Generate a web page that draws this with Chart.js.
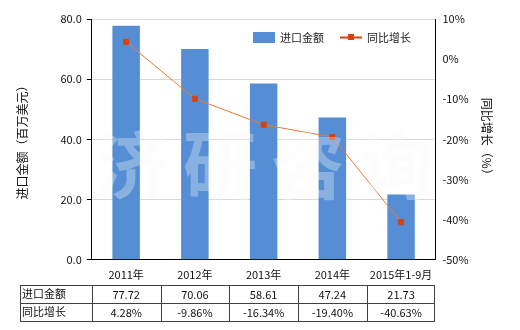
<!DOCTYPE html>
<html>
<head>
<meta charset="utf-8">
<script src="https://cdn.jsdelivr.net/npm/chart.js@4/dist/chart.umd.min.js"></script>
<style>
  html, body { margin: 0; padding: 0; background: #fff; }
  #wrap { width: 520px; height: 330px; }
</style>
</head>
<body>
<div id="wrap"><canvas id="chart" width="520" height="330"></canvas></div>
<script>
const categories = ['2011年', '2012年', '2013年', '2014年', '2015年1-9月'];
const importValues = [77.72, 70.06, 58.61, 47.24, 21.73];
const growthValues = [4.28, -9.86, -16.34, -19.40, -40.63];
const importLabels = ['77.72', '70.06', '58.61', '47.24', '21.73'];
const growthLabels = ['4.28%', '-9.86%', '-16.34%', '-19.40%', '-40.63%'];

const FONT = '"Noto Sans CJK SC", "Noto Sans", sans-serif';
const BAR_COLOR = '#558ed5';
const LINE_COLOR = '#ee7a30';
const POINT_COLOR = '#d9420b';

function drawWatermark(ctx, color) {
    ctx.save();
    ctx.font = 'bold 74px ' + FONT;
    ctx.fillStyle = color;
    ctx.textAlign = 'center';
    ctx.textBaseline = 'middle';
    ['济', '研', '咨', '询'].forEach((c, i) => ctx.fillText(c, 132 + i * 88, 165));
    ctx.restore();
}

// watermark, legend and data table under the axis
const extras = {
    id: 'extras',
    beforeDatasetsDraw(chart) {
        drawWatermark(chart.ctx, 'rgba(235,235,235,0.1)');
    },
    afterDatasetsDraw(chart) {
        drawWatermark(chart.ctx, 'rgba(255,255,255,0.3)');
    },
    afterDraw(chart) {
        const ctx = chart.ctx;
        const x = chart.scales.x;
        ctx.save();

        // legend
        ctx.font = '11px ' + FONT;
        ctx.textBaseline = 'middle';
        ctx.fillStyle = BAR_COLOR;
        ctx.fillRect(253, 32, 22, 11);
        ctx.fillStyle = '#222';
        ctx.fillText('进口金额', 280, 38);
        ctx.strokeStyle = POINT_COLOR;
        ctx.lineWidth = 2;
        ctx.beginPath();
        ctx.moveTo(340, 37.5);
        ctx.lineTo(362, 37.5);
        ctx.stroke();
        ctx.fillStyle = POINT_COLOR;
        ctx.fillRect(348, 34, 6, 6);
        ctx.fillStyle = '#222';
        ctx.fillText('同比增长', 367, 38);

        // table
        const left = 20, right = chart.chartArea.right - 1;
        const rows = [285, 303, 321];
        const step = x.getPixelForValue(1) - x.getPixelForValue(0);
        ctx.strokeStyle = '#404040';
        ctx.lineWidth = 1;
        ctx.beginPath();
        rows.forEach(y => { ctx.moveTo(left, y + 0.5); ctx.lineTo(right, y + 0.5); });
        const cols = [left, x.getPixelForValue(0) - step / 2];
        categories.forEach((c, i) => cols.push(x.getPixelForValue(i) + step / 2));
        cols[cols.length - 1] = right;
        cols.forEach(cx => { ctx.moveTo(Math.round(cx) + 0.5, rows[0]); ctx.lineTo(Math.round(cx) + 0.5, rows[2] + 1); });
        ctx.stroke();

        ctx.fillStyle = '#111';
        ctx.font = '11px ' + FONT;
        ctx.textAlign = 'left';
        ctx.fillText('进口金额', left + 2, 294);
        ctx.fillText('同比增长', left + 2, 312);
        ctx.textAlign = 'center';
        categories.forEach((c, i) => {
            const cx = x.getPixelForValue(i);
            ctx.fillText(importLabels[i], cx, 295);
            ctx.fillText(growthLabels[i], cx, 313);
        });
        ctx.restore();
    }
};

new Chart(document.getElementById('chart'), {
    type: 'bar',
    data: {
        labels: categories,
        datasets: [
            {
                type: 'line',
                label: '同比增长',
                data: growthValues,
                yAxisID: 'y1',
                borderColor: LINE_COLOR,
                borderWidth: 1,
                pointStyle: 'rect',
                pointRadius: 3.5,
                pointBackgroundColor: POINT_COLOR,
                pointBorderColor: POINT_COLOR,
                tension: 0,
                order: 0
            },
            {
                label: '进口金额',
                data: importValues,
                yAxisID: 'y',
                backgroundColor: BAR_COLOR,
                categoryPercentage: 1,
                barPercentage: 0.4,
                order: 1
            }
        ]
    },
    options: {
        responsive: false,
        animation: false,
        layout: { padding: { top: 19, left: 15, right: 26, bottom: 46 } },
        plugins: {
            legend: { display: false },
            tooltip: { enabled: false }
        },
        scales: {
            x: {
                grid: { display: false, drawTicks: true, tickLength: 5, tickColor: '#000' },
                border: { color: '#000', width: 1 },
                ticks: { color: '#111', font: { family: FONT, size: 11 }, padding: 3 }
            },
            y: {
                position: 'left',
                min: 0,
                max: 80,
                ticks: {
                    stepSize: 20,
                    color: '#111',
                    font: { family: FONT, size: 11 },
                    padding: 5,
                    callback: v => v.toFixed(1)
                },
                grid: { color: '#d9d9d9', tickColor: '#000', tickLength: 5 },
                border: { color: '#000', width: 1 },
                title: {
                    display: true,
                    text: '进口金额（百万美元）',
                    color: '#111',
                    font: { family: FONT, size: 12 },
                    padding: { top: 0, bottom: 26 }
                }
            },
            y1: {
                position: 'right',
                min: -50,
                max: 10,
                ticks: {
                    stepSize: 10,
                    color: '#111',
                    font: { family: FONT, size: 11 },
                    padding: 2,
                    callback: v => v + '%'
                },
                grid: { display: false, drawOnChartArea: false, tickColor: '#000', tickLength: 5 },
                border: { color: '#000', width: 1 },
                title: {
                    display: true,
                    text: '同比增长（%）',
                    color: '#111',
                    font: { family: FONT, size: 12 },
                    padding: { top: 0, bottom: 9 }
                }
            }
        }
    },
    plugins: [extras]
});
</script>
</body>
</html>
